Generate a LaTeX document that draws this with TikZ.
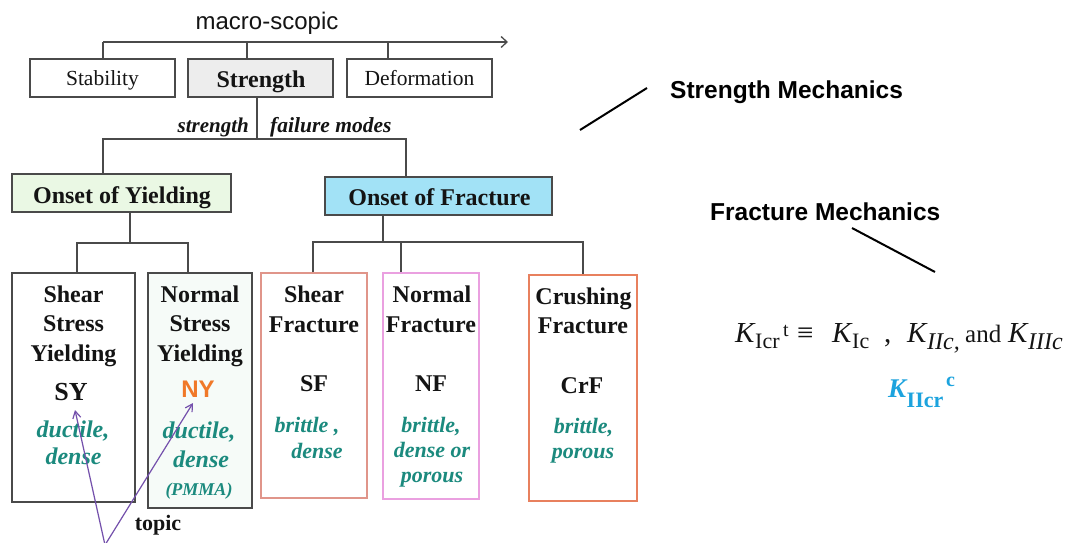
\documentclass[tikz,border=0pt]{standalone}
\usepackage{fontspec}
\setmainfont{Liberation Serif}
\setsansfont{Liberation Sans}
\usetikzlibrary{arrows.meta}
\definecolor{linegray}{HTML}{4A4A4A}
\definecolor{tealtxt}{HTML}{1B8A7E}
\definecolor{nyorange}{HTML}{F07828}
\definecolor{sfborder}{HTML}{E0958A}
\definecolor{nfborder}{HTML}{EAA0E0}
\definecolor{crfborder}{HTML}{E8805E}
\definecolor{yieldfill}{HTML}{EAF8E4}
\definecolor{fracfill}{HTML}{A2E2F6}
\definecolor{strfill}{HTML}{EDEDED}
\definecolor{nyfill}{HTML}{F6FBF8}
\definecolor{kblue}{HTML}{1CA3DE}
\definecolor{topicpurple}{HTML}{7450AC}
\definecolor{txtblack}{HTML}{141414}
\newcommand{\fsz}[1]{\fontsize{#1}{#1}\selectfont}
\begin{document}
\begin{tikzpicture}[x=1pt,y=-1pt,
  conn/.style={draw=linegray, line width=1.3pt},
  box/.style={draw=linegray, line width=1.3pt, inner sep=0pt, rectangle},
  lbl/.style={anchor=base, inner sep=0pt, text=txtblack},
  ttl/.style={lbl, font=\bfseries\fsz{24}},
  propy/.style={anchor=base, inner sep=0pt, text=tealtxt, font=\bfseries\itshape\fsz{24}},
  propf/.style={anchor=base, inner sep=0pt, text=tealtxt, font=\bfseries\itshape\fsz{22}},
  fpart/.style={anchor=base west, inner sep=0pt, text=txtblack},
  kpart/.style={anchor=base west, inner sep=0pt, text=kblue},
  topicarrow/.style={draw=topicpurple, line width=1.2pt, -{Straight Barb[length=7pt,width=8pt]}},
  pointer/.style={draw=black, line width=2pt}
]
\useasboundingbox (0,0) rectangle (1081,543);
\fill[white] (0,0) rectangle (1081,543);

% ---------- top tier ----------
\node[lbl, font=\sffamily\fsz{24}] (macro) at (267,30) {macro-scopic};
\node[box, minimum width=145pt, minimum height=38pt] (stab) at (102.5,78) {};
\node[box, fill=strfill, minimum width=145pt, minimum height=38pt] (stre) at (260.5,78) {};
\node[box, minimum width=145pt, minimum height=38pt] (defo) at (419.5,78) {};
\node[lbl, font=\fsz{21.5}] (stabt) at (102.5,85) {Stability};
\node[lbl, font=\bfseries\fsz{24}] (stret) at (261,87) {Strength};
\node[lbl, font=\fsz{21.5}] (defot) at (419.5,85) {Deformation};

\coordinate (axL) at (103,42);
\coordinate (axR) at (508,42);
\draw[conn, -{Straight Barb[length=6pt,width=11pt]}] (axL) -- (axR);
\draw[conn] (axL) -- (axL |- stab.north);
\draw[conn] (247,42) coordinate (axS) -- (axS |- stre.north);
\draw[conn] (388,42) coordinate (axD) -- (axD |- defo.north);

% ---------- strength -> failure modes ----------
\coordinate (sj) at (257,139);
\draw[conn] (sj |- stre.south) -- (sj);
\node[anchor=base east, inner sep=0pt, font=\bfseries\itshape\fsz{21}, text=txtblack] (strw) at (249,132) {strength};
\node[anchor=base west, inner sep=0pt, font=\bfseries\itshape\fsz{21.5}, text=txtblack] (fmw) at (270,132) {failure modes};

\node[box, fill=yieldfill, minimum width=219pt, minimum height=38pt] (oy) at (121.5,193) {};
\node[box, fill=fracfill, minimum width=227pt, minimum height=38pt] (of) at (438.5,196) {};
\node[lbl, font=\bfseries\fsz{24}] (oyt) at (122,203) {Onset of Yielding};
\node[lbl, font=\bfseries\fsz{24}] (oft) at (439.5,205) {Onset of Fracture};

\coordinate (bL) at (103,139);
\coordinate (bR) at (406,139);
\draw[conn] (bL |- oy.north) -- (bL) -- (bR) -- (bR |- of.north);

% ---------- third tier boxes ----------
\node[box, minimum width=123pt, minimum height=229pt] (sy) at (73.5,387.5) {};
\node[box, fill=nyfill, minimum width=104pt, minimum height=235pt] (ny) at (200,390.5) {};
\node[box, draw=sfborder, minimum width=106pt, minimum height=225pt] (sf) at (314,385.5) {};
\node[box, draw=nfborder, minimum width=96pt, minimum height=226pt] (nf) at (431,386) {};
\node[box, draw=crfborder, line width=1.6pt, minimum width=108pt, minimum height=226pt] (crf) at (583,388) {};

% connectors yielding
\coordinate (yj) at (130,243);
\coordinate (yL) at (77,243);
\coordinate (yR) at (188,243);
\draw[conn] (yj |- oy.south) -- (yj);
\draw[conn] (yL |- sy.north) -- (yL) -- (yR) -- (yR |- ny.north);

% connectors fracture
\coordinate (fj) at (383,242);
\coordinate (fL) at (313,242);
\coordinate (fM) at (401,242);
\coordinate (fR) at (583,242);
\draw[conn] (fj |- of.south) -- (fj);
\draw[conn] (fL |- sf.north) -- (fL) -- (fR) -- (fR |- crf.north);
\draw[conn] (fM) -- (fM |- nf.north);

% ---------- texts in SY ----------
\node[ttl] (sy1) at (73.5,302) {Shear};
\node[ttl] (sy2) at (73.5,331) {Stress};
\node[ttl] (sy3) at (73.5,361) {Yielding};
\node[lbl, font=\bfseries\fsz{26}] (syc) at (71,400) {SY};
\node[propy] (syp1) at (73,437) {ductile,};
\node[propy] (syp2) at (73.5,464) {dense};

% ---------- texts in NY ----------
\node[ttl] (ny1) at (200,302) {Normal};
\node[ttl] (ny2) at (200,331) {Stress};
\node[ttl] (ny3) at (200,361) {Yielding};
\node[anchor=base, inner sep=0pt, font=\sffamily\bfseries\fsz{24}, text=nyorange] (nyc) at (198,397) {NY};
\node[propy] (nyp1) at (199,438) {ductile,};
\node[propy] (nyp2) at (201,467) {dense};
\node[anchor=base, inner sep=0pt, text=tealtxt, font=\bfseries\itshape\fsz{18}] (nyp3) at (199,495) {(PMMA)};

% ---------- texts in SF ----------
\node[ttl] (sf1) at (314,302) {Shear};
\node[ttl] (sf2) at (314,332) {Fracture};
\node[lbl, font=\bfseries\fsz{24}] (sfc) at (314,391) {SF};
\node[propf] (sfp1) at (307,432) {brittle ,};
\node[propf] (sfp2) at (317,458) {dense};

% ---------- texts in NF ----------
\node[ttl] (nf1) at (432,302) {Normal};
\node[ttl] (nf2) at (431,332) {Fracture};
\node[lbl, font=\bfseries\fsz{24}] (nfc) at (431,391) {NF};
\node[propf] (nfp1) at (431,432) {brittle,};
\node[propf] (nfp2) at (432,457) {dense or};
\node[propf] (nfp3) at (432,482) {porous};

% ---------- texts in CrF ----------
\node[ttl] (cr1) at (583.5,304) {Crushing};
\node[ttl] (cr2) at (583,333) {Fracture};
\node[lbl, font=\bfseries\fsz{24}] (crc) at (582,393) {CrF};
\node[propf] (crp1) at (583.5,433) {brittle,};
\node[propf] (crp2) at (583,458) {porous};

% ---------- topic arrows ----------
\node[lbl, font=\bfseries\fsz{22}] (topic) at (158,530) {topic};
\coordinate (tsrc) at (105,545);
\coordinate (tsy) at (75,410);
\coordinate (tny) at (193,403);
\draw[topicarrow] (tsrc) -- (tsy);
\draw[topicarrow] (tsrc) -- (tny);

% ---------- right side ----------
\node[anchor=base west, inner sep=0pt, font=\sffamily\bfseries\fsz{24.5}, text=black] (sm) at (670,98) {Strength Mechanics};
\coordinate (sm1) at (580,130);
\coordinate (sm2) at (647,88);
\draw[pointer] (sm1) -- (sm2);

\node[anchor=base west, inner sep=0pt, font=\sffamily\bfseries\fsz{24.5}, text=black] (fm) at (710,220) {Fracture Mechanics};
\coordinate (fm1) at (852,228);
\coordinate (fm2) at (935,272);
\draw[pointer] (fm1) -- (fm2);

% formula  K_Icr^t = K_Ic , K_IIc, and K_IIIc
\node[fpart, font=\itshape\fsz{29}] (fk1) at (735,342) {K};
\node[fpart, font=\fsz{22}] (fs1) at (755,348) {Icr};
\node[fpart, font=\fsz{20}] (fp1) at (783,336) {t};
\node[fpart, font=\fsz{29}] (feq) at (797,342) {≡};
\node[fpart, font=\itshape\fsz{29}] (fk2) at (832,342) {K};
\node[fpart, font=\fsz{22}] (fs2) at (852,348) {Ic};
\node[fpart, font=\fsz{29}] (fcm) at (884,342) {,};
\node[fpart, font=\itshape\fsz{29}] (fk3) at (907,342) {K};
\node[fpart, font=\itshape\fsz{24}] (fs3) at (927,349) {IIc,};
\node[fpart, font=\fsz{25}] (fand) at (965,342) {and};
\node[fpart, font=\itshape\fsz{29}] (fk4) at (1008,342) {K};
\node[fpart, font=\itshape\fsz{24}] (fs4) at (1028,349) {IIIc};

% K_IIcr^c
\node[kpart, font=\bfseries\itshape\fsz{27}] (kk) at (888,397) {K};
\node[kpart, font=\bfseries\fsz{22}] (ks) at (906.5,407) {IIcr};
\node[kpart, font=\bfseries\fsz{20}] (kp) at (946,386) {c};
\end{tikzpicture}
\end{document}
